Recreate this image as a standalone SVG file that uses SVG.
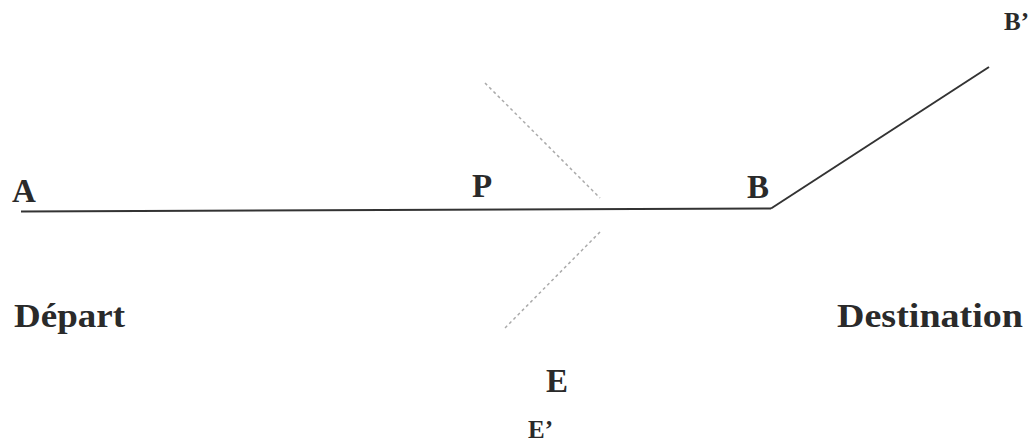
<svg xmlns="http://www.w3.org/2000/svg" width="1034" height="441" viewBox="0 0 1034 441">
<style>
.lbl{font-family:"Liberation Serif","Times New Roman",serif;font-weight:bold;fill:#2a2a2a}
.big{font-size:33px}
.small{font-size:25px}
.solid{stroke:#333;stroke-width:2;fill:none}
.dash{stroke:#aaa;stroke-width:1.5;stroke-dasharray:3 3;fill:none}
</style>
<rect width="1034" height="441" fill="#fff"/>
<g id="connectors">
<line class="solid" x1="21" y1="211.5" x2="771" y2="208.5"/>
<line class="solid" x1="771" y1="208.5" x2="989" y2="67"/>
<line class="dash" x1="485" y1="83" x2="600" y2="198"/>
<line class="dash" x1="600" y1="232" x2="505" y2="328"/>
</g>
<g id="node-A"><text class="lbl big" x="12" y="202">A</text></g>
<g id="node-P"><text class="lbl big" x="472" y="197">P</text></g>
<g id="node-B"><text class="lbl big" x="747" y="198">B</text></g>
<g id="node-Bp"><text class="lbl small" x="1004" y="30">B’</text></g>
<g id="node-E"><text class="lbl big" x="546" y="392">E</text></g>
<g id="node-Ep"><text class="lbl small" x="528" y="438">E’</text></g>
<g id="label-depart"><text class="lbl big" x="14" y="327" textLength="111" lengthAdjust="spacingAndGlyphs">Départ</text></g>
<g id="label-destination"><text class="lbl big" x="837" y="327" textLength="186" lengthAdjust="spacingAndGlyphs">Destination</text></g>
</svg>
